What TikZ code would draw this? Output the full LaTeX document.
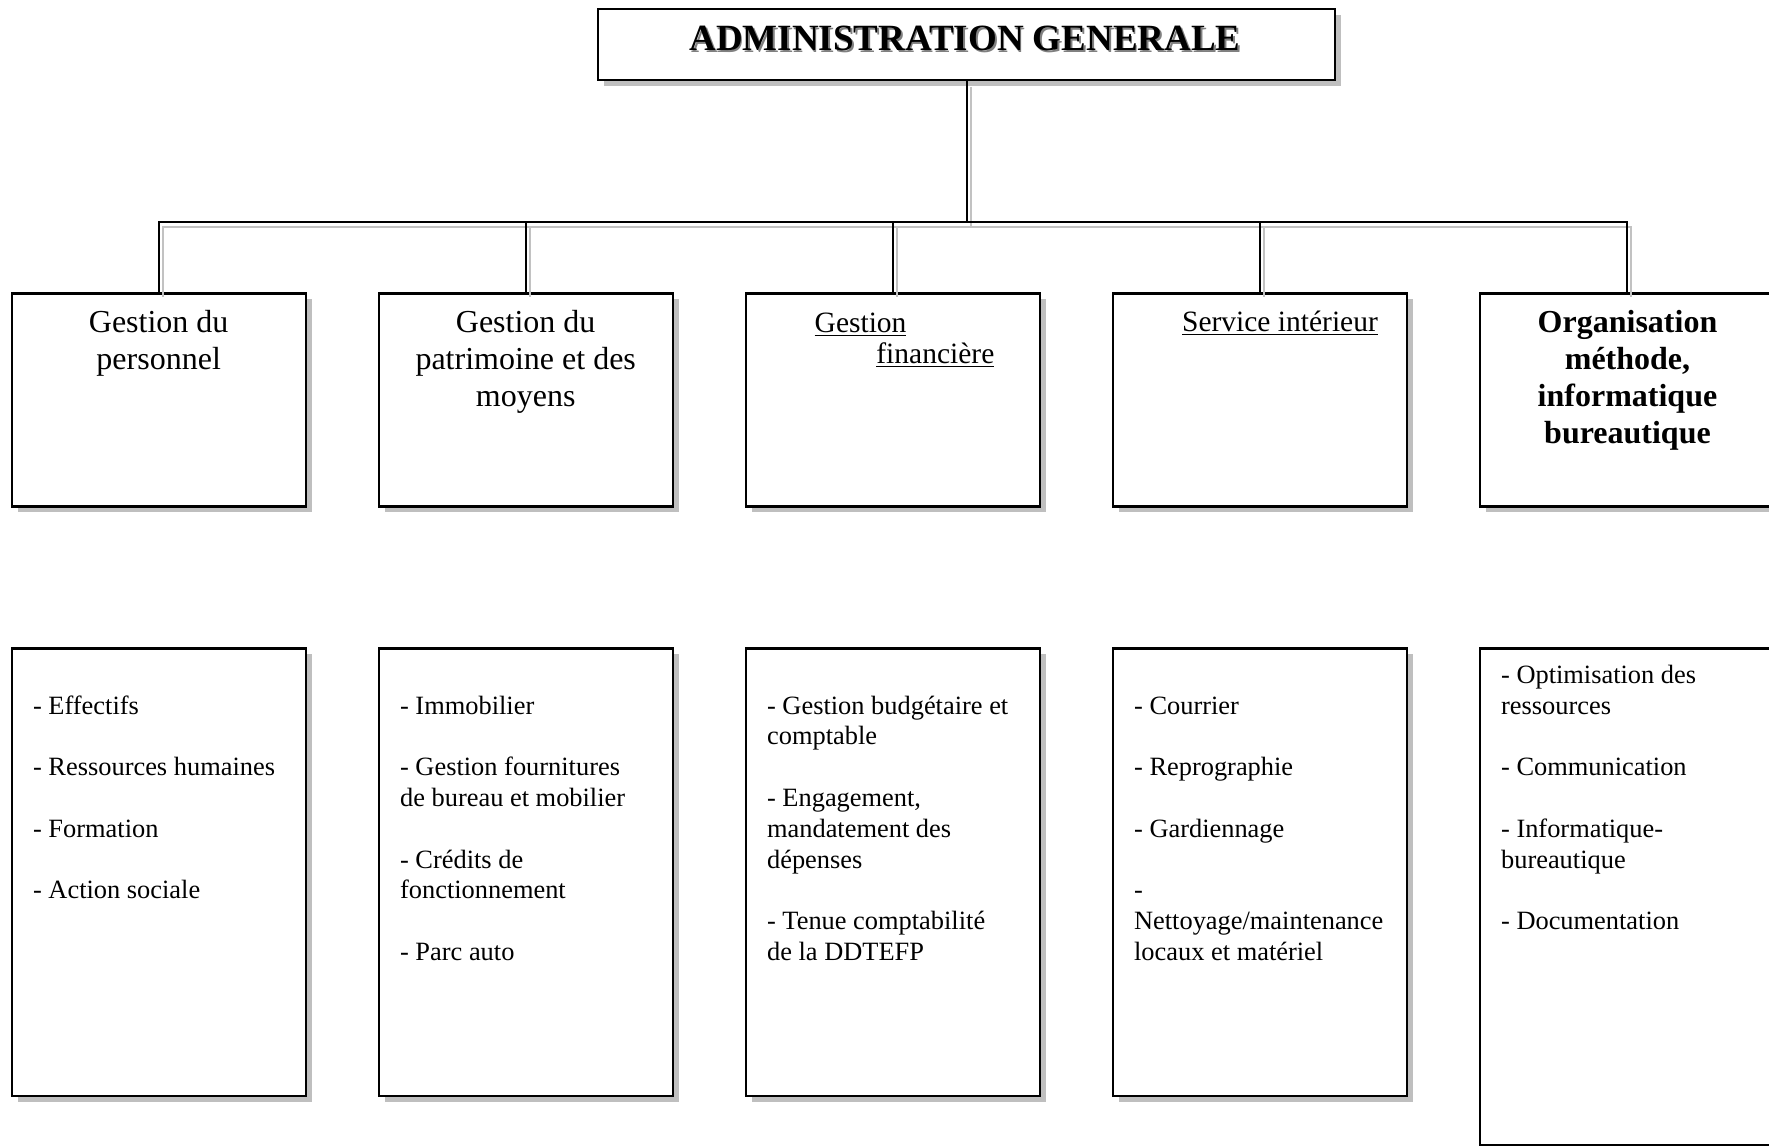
\documentclass[tikz,border=0pt]{standalone}
\usepackage{fontspec}
\setmainfont{Liberation Serif}
\usetikzlibrary{shadows}

\definecolor{boxshade}{gray}{0.75}
\definecolor{linkshade}{gray}{0.76}
\definecolor{titleshade}{gray}{0.5}

% stacked lines, top line on the baseline
\newcommand{\tasklist}[1]{\begin{tabular}[t]{@{}l@{}}#1\end{tabular}}
\newcommand{\headlist}[1]{\begin{tabular}[t]{@{}c@{}}#1\end{tabular}}

\tikzset{
  frame/.style={draw=black, line width=1.15pt, fill=white, inner sep=0pt, anchor=north,
    drop shadow={shadow xshift=3pt, shadow yshift=-3pt, fill=boxshade, opacity=1}},
  titlebox/.style={frame, minimum width=368.35pt, minimum height=35.75pt},
  headbox/.style={frame, minimum width=147pt, minimum height=106.5pt},
  taskbox/.style={frame, minimum width=147pt, minimum height=223.7pt},
  titletext/.style={inner sep=0pt, anchor=base, font=\fontsize{18.5pt}{21pt}\selectfont\bfseries},
  headtext/.style={inner sep=0pt, anchor=base, font=\fontsize{16pt}{18.5pt}\selectfont},
  subtext/.style={inner sep=0pt, anchor=base west, font=\fontsize{14.75pt}{16pt}\selectfont},
  tasktext/.style={inner sep=0pt, anchor=base west, font=\fontsize{13.2pt}{15.4pt}\selectfont},
  link/.style={line width=1pt, draw=black},
  linkshadow/.style={line width=1pt, draw=linkshade},
}

\begin{document}
\begin{tikzpicture}[x=0.5pt, y=-0.5pt]
\useasboundingbox (0,0) rectangle (1769,1146);
\clip (0,0) rectangle (1769,1146);

% top box
\node[titlebox] (title) at (966.65,7.5) {};
\node[titletext, text=titleshade] (titleshadow) at (966.8,52.3) {ADMINISTRATION GENERALE};
\node[titletext] (titlelabel) at (965,50.5) {ADMINISTRATION GENERALE};

% service boxes
\node[headbox] (g1) at (158.7,292.3) {};
\node[headbox] (g2) at (525.7,292.3) {};
\node[headbox] (g3) at (892.7,292.3) {};
\node[headbox] (g4) at (1259.7,292.3) {};
\node[headbox] (g5) at (1626.7,292.3) {};

% task boxes
\node[taskbox] (d1) at (158.7,647.3) {};
\node[taskbox] (d2) at (525.7,647.3) {};
\node[taskbox] (d3) at (892.7,647.3) {};
\node[taskbox] (d4) at (1259.7,647.3) {};
\node[taskbox, minimum height=248.1pt] (d5) at (1626.7,647.3) {};

% connectors: grey offset line, then black line
\coordinate (bus) at (0,221.7);
\coordinate (shadowbus) at (0,226.7);
\foreach \i in {1,...,5}{
  \draw[linkshadow] ([xshift=2.25pt,yshift=-3pt]title.south) |- ([xshift=2.25pt]g\i.north |- shadowbus)
    -- ([xshift=2.25pt,yshift=-2.5pt]g\i.north);
}
\foreach \i in {1,...,5}{
  \draw[link] (title.south) |- (g\i.north |- bus) -- (g\i.north);
}

% service titles
\node[headtext] (h1) at (158.7,332) {\headlist{Gestion du\\personnel}};
\node[headtext] (h2) at (525.7,332) {\headlist{Gestion du\\patrimoine et des\\moyens}};
\node[subtext] (h3a) at (814.3,332) {\underline{Gestion}};
\node[subtext] (h3b) at (876,363.5) {\underline{financière}};
\node[subtext] (h4) at (1181.7,331) {\underline{Service intérieur}};
\node[headtext, font=\fontsize{16pt}{18.5pt}\selectfont\bfseries] (h5) at (1627.5,332)
  {\headlist{Organisation\\méthode,\\informatique\\bureautique}};

% task lists
\node[tasktext] (k1) at (32.7,714) {\tasklist{- Effectifs\\ \\- Ressources humaines\\ \\- Formation\\ \\- Action sociale}};
\node[tasktext] (k2) at (399.7,714) {\tasklist{- Immobilier\\ \\- Gestion fournitures\\de bureau et mobilier\\ \\- Crédits de\\fonctionnement\\ \\- Parc auto}};
\node[tasktext] (k3) at (766.7,714) {\tasklist{- Gestion budgétaire et\\comptable\\ \\- Engagement,\\mandatement des\\dépenses\\ \\- Tenue comptabilité\\de la DDTEFP}};
\node[tasktext] (k4) at (1133.7,714) {\tasklist{- Courrier\\ \\- Reprographie\\ \\- Gardiennage\\ \\-\\Nettoyage/maintenance\\locaux et matériel}};
\node[tasktext] (k5) at (1500.7,683.2) {\tasklist{- Optimisation des\\ressources\\ \\- Communication\\ \\- Informatique-\\bureautique\\ \\- Documentation}};
\end{tikzpicture}
\end{document}
